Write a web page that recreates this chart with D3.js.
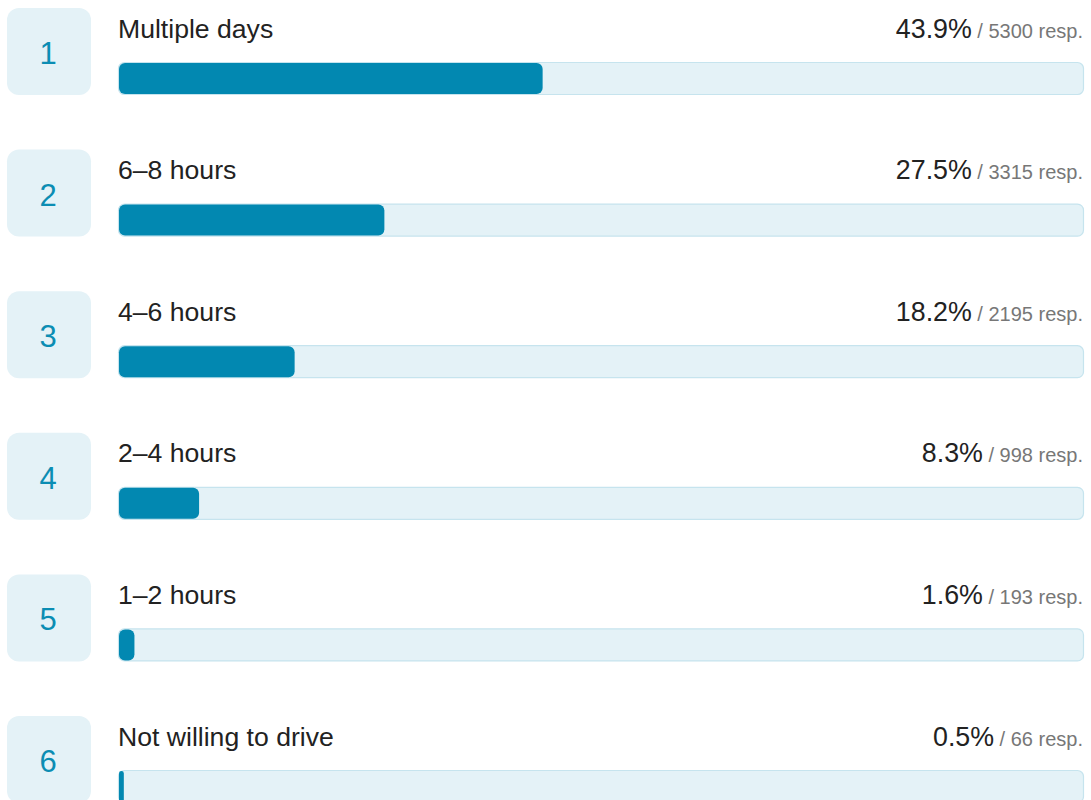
<!DOCTYPE html>
<html>
<head>
<meta charset="utf-8">
<script src="https://cdn.jsdelivr.net/npm/d3@7"></script>
<style>
  body { margin: 0; background: #ffffff; }
  svg { display: block; font-family: "Liberation Sans", Arial, sans-serif; }
</style>
</head>
<body>
<div id="chart"></div>
<script>
// answer options, in rank order
const answers = ["Multiple days", "6–8 hours", "4–6 hours", "2–4 hours", "1–2 hours", "Not willing to drive"];
const percents = [43.9, 27.5, 18.2, 8.3, 1.6, 0.5];
const responses = [5300, 3315, 2195, 998, 193, 66];

const width = 1091;
const height = 800;

const rows = answers.map((a, i) => ({ rank: i + 1, answer: a, pct: percents[i], resp: responses[i] }));

const svg = d3.select("#chart")
    .append("svg")
    .attr("width", width)
    .attr("height", height);

// one row every ~141px
const y = d3.scaleBand()
    .domain(rows.map(d => d.rank))
    .range([8, 8 + 141.6 * rows.length])
    .paddingInner(0);

const trackX = 118.5, trackW = 965;
const x = d3.scaleLinear().domain([0, 100]).range([0, trackW]);

const g = svg.selectAll("g.row")
    .data(rows)
    .enter()
    .append("g")
    .attr("class", "row")
    .attr("transform", d => "translate(0," + y(d.rank) + ")");

// rank box
g.append("rect")
    .attr("x", 7).attr("y", 0)
    .attr("width", 84).attr("height", 87)
    .attr("rx", 12)
    .attr("fill", "#e4f2f7");

g.append("text")
    .attr("x", 48).attr("y", 56)
    .attr("text-anchor", "middle")
    .attr("fill", "#0b8db3")
    .style("font-size", "31px")
    .text(d => d.rank);

// answer label
g.append("text")
    .attr("x", 118).attr("y", 29.5)
    .attr("fill", "#222")
    .style("font-size", "26.6px")
    .text(d => d.answer);

// percent + responses
const right = g.append("text")
    .attr("x", 1083).attr("y", 29.5)
    .attr("text-anchor", "end");
right.append("tspan")
    .attr("fill", "#222")
    .style("font-size", "26.8px")
    .text(d => d.pct.toFixed(1) + "%");
right.append("tspan")
    .attr("fill", "#777")
    .style("font-size", "20px")
    .text(d => " / " + d.resp + " resp.");

// track
g.append("rect")
    .attr("x", trackX).attr("y", 54.5)
    .attr("width", trackW).attr("height", 32)
    .attr("rx", 6)
    .attr("fill", "#e4f2f7")
    .attr("stroke", "#c6e4ee")
    .attr("stroke-width", 1.2);

// value bar
g.append("rect")
    .attr("x", trackX + 0.5).attr("y", 55)
    .attr("width", d => Math.max(3, x(d.pct)))
    .attr("height", 31)
    .attr("rx", d => Math.min(6, Math.max(1.5, x(d.pct) / 2)))
    .attr("fill", "#0288b1");
</script>
</body>
</html>
